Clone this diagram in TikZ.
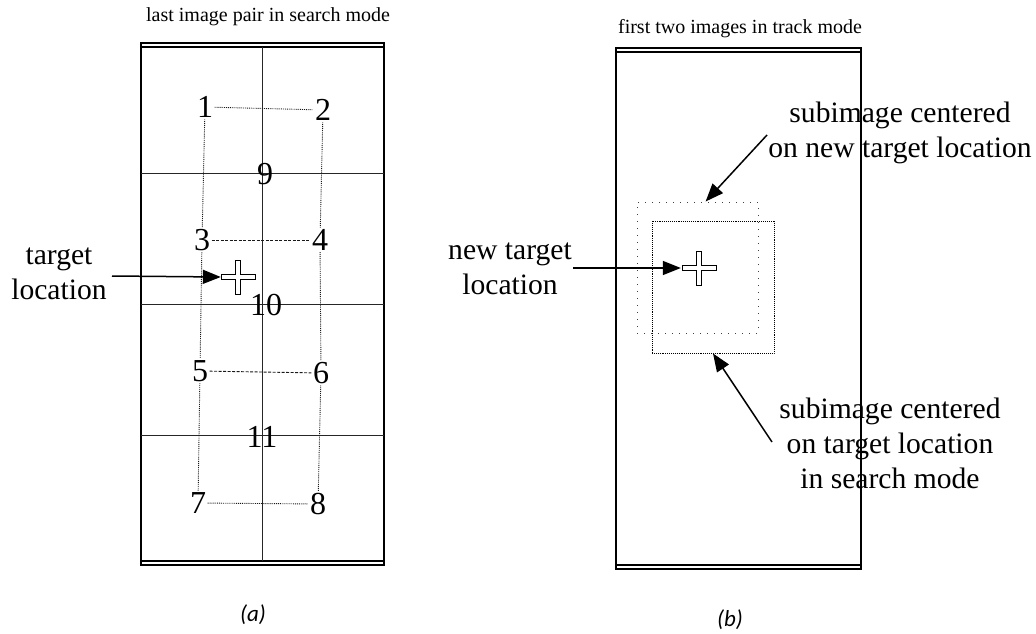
\documentclass[tikz,border=0pt]{standalone}
\usepackage{fontspec}
\setmainfont{Liberation Serif}
\newfontfamily\capfont{Carlito}
\usetikzlibrary{arrows.meta}
\begin{document}
\begin{tikzpicture}[x=1pt,y=-1pt,
  frameline/.style={line width=1.1pt},
  gridline/.style={line width=0.8pt, black!85},
  dotline/.style={line width=0.9pt, densely dotted, black!90},
  sparseline/.style={line width=1pt, dash pattern=on 1pt off 6pt, black!75},
  numtxt/.style={font=\fontsize{32}{32}\selectfont, inner sep=1.5pt},
  lbltxt/.style={font=\fontsize{29.6}{35}\selectfont, align=center, inner sep=0pt},
  ttltxt/.style={font=\fontsize{20}{24}\selectfont, inner sep=0pt, anchor=base},
  captxt/.style={font=\capfont\itshape\fontsize{23}{24}\selectfont, inner sep=0pt},
  arr/.style={line width=1.5pt, -{Triangle[length=18pt,width=14pt]}},
  plusmark/.style={fill=white, draw=black, line width=0.9pt},
  plussign/.pic={\draw[plusmark] (-17,-2.5) -- (-2.5,-2.5) -- (-2.5,-17) -- (2.5,-17) -- (2.5,-2.5) -- (17,-2.5) -- (17,2.5) -- (2.5,2.5) -- (2.5,17) -- (-2.5,17) -- (-2.5,2.5) -- (-17,2.5) -- cycle;},
  ]
\useasboundingbox (0,0) rectangle (1036,634);
\fill[white] (0,0) rectangle (1036,634);

% ---------------- panel (a) ----------------
\node[ttltxt] (ta) at (268,22) {last image pair in search mode};
\draw[frameline] (141,43) rectangle (384,565);
\draw[frameline] (141,47) -- (384,47);
\draw[frameline] (141,561) -- (384,561);
% grid
\draw[gridline] (262,47) -- (262,561);
\draw[gridline] (141,173) -- (384,173);
\draw[gridline] (141,304) -- (384,304);
\draw[gridline] (141,435) -- (384,435);

\node[numtxt] (n1) at (205,107) {1};
\node[numtxt] (n2) at (323,110) {2};
\node[numtxt] (n9) at (265,174) {9};
\node[numtxt] (n3) at (202,240) {3};
\node[numtxt] (n4) at (320,240) {4};
\node[numtxt] (n10) at (266,305) {10};
\node[numtxt] (n5) at (200,371) {5};
\node[numtxt] (n6) at (321,373) {6};
\node[numtxt] (n11) at (262,437) {11};
\node[numtxt] (n7) at (198,503) {7};
\node[numtxt] (n8) at (318,504) {8};

\draw[dotline] (n1) -- (n2);
\draw[dotline, dash pattern=on 3pt off 1.5pt] (n3) -- (n4);
\draw[dotline, dash pattern=on 3pt off 1.5pt] (n5) -- (n6);
\draw[dotline] (n7) -- (n8);
\draw[dotline] (n1) -- (n3) -- (n5) -- (n7);
\draw[dotline] (n2) -- (n4) -- (n6) -- (n8);

\node[minimum size=34pt, inner sep=0pt] (cl) at (238,277) {};
\pic at (cl.center) {plussign};
\node[lbltxt] (tl) at (59,274) {target\\location};
\coordinate (tls) at (112,276);
\draw[arr] (tls) -- (cl.west);

\node[captxt] (capa) at (253,615) {(a)};

% ---------------- panel (b) ----------------
\node[ttltxt] (tb) at (740,34) {first two images in track mode};
\draw[frameline] (616,48) rectangle (861,569);
\draw[frameline] (616,52) -- (861,52);
\draw[frameline] (616,565) -- (861,565);

\node[draw, sparseline, minimum width=121pt, minimum height=131pt, inner sep=0pt] (sq2) at (697.5,267.5) {};
\node[draw, dotline, black, minimum width=122pt, minimum height=132pt, inner sep=0pt] (sq1) at (713,287) {};

\node[minimum size=36pt, inner sep=0pt] (cr) at (699,268) {};
\pic at (cr.center) {plussign};

\node[lbltxt] (ntl) at (510,269) {new target\\location};
\coordinate (ntls) at (573,268);
\draw[arr] (ntls) -- (cr.west);

\node[lbltxt] (sn) at (900,133) {subimage centered\\on new target location};
\coordinate (sns) at (767,135);
\draw[arr] (sns) -- (sq2.83);

\node[lbltxt] (ss) at (890,443) {subimage centered\\on target location\\in search mode};
\coordinate (sss) at (772,442);
\draw[arr] (sss) -- (sq1.south);

\node[captxt] (capb) at (730,620) {(b)};
\end{tikzpicture}
\end{document}
